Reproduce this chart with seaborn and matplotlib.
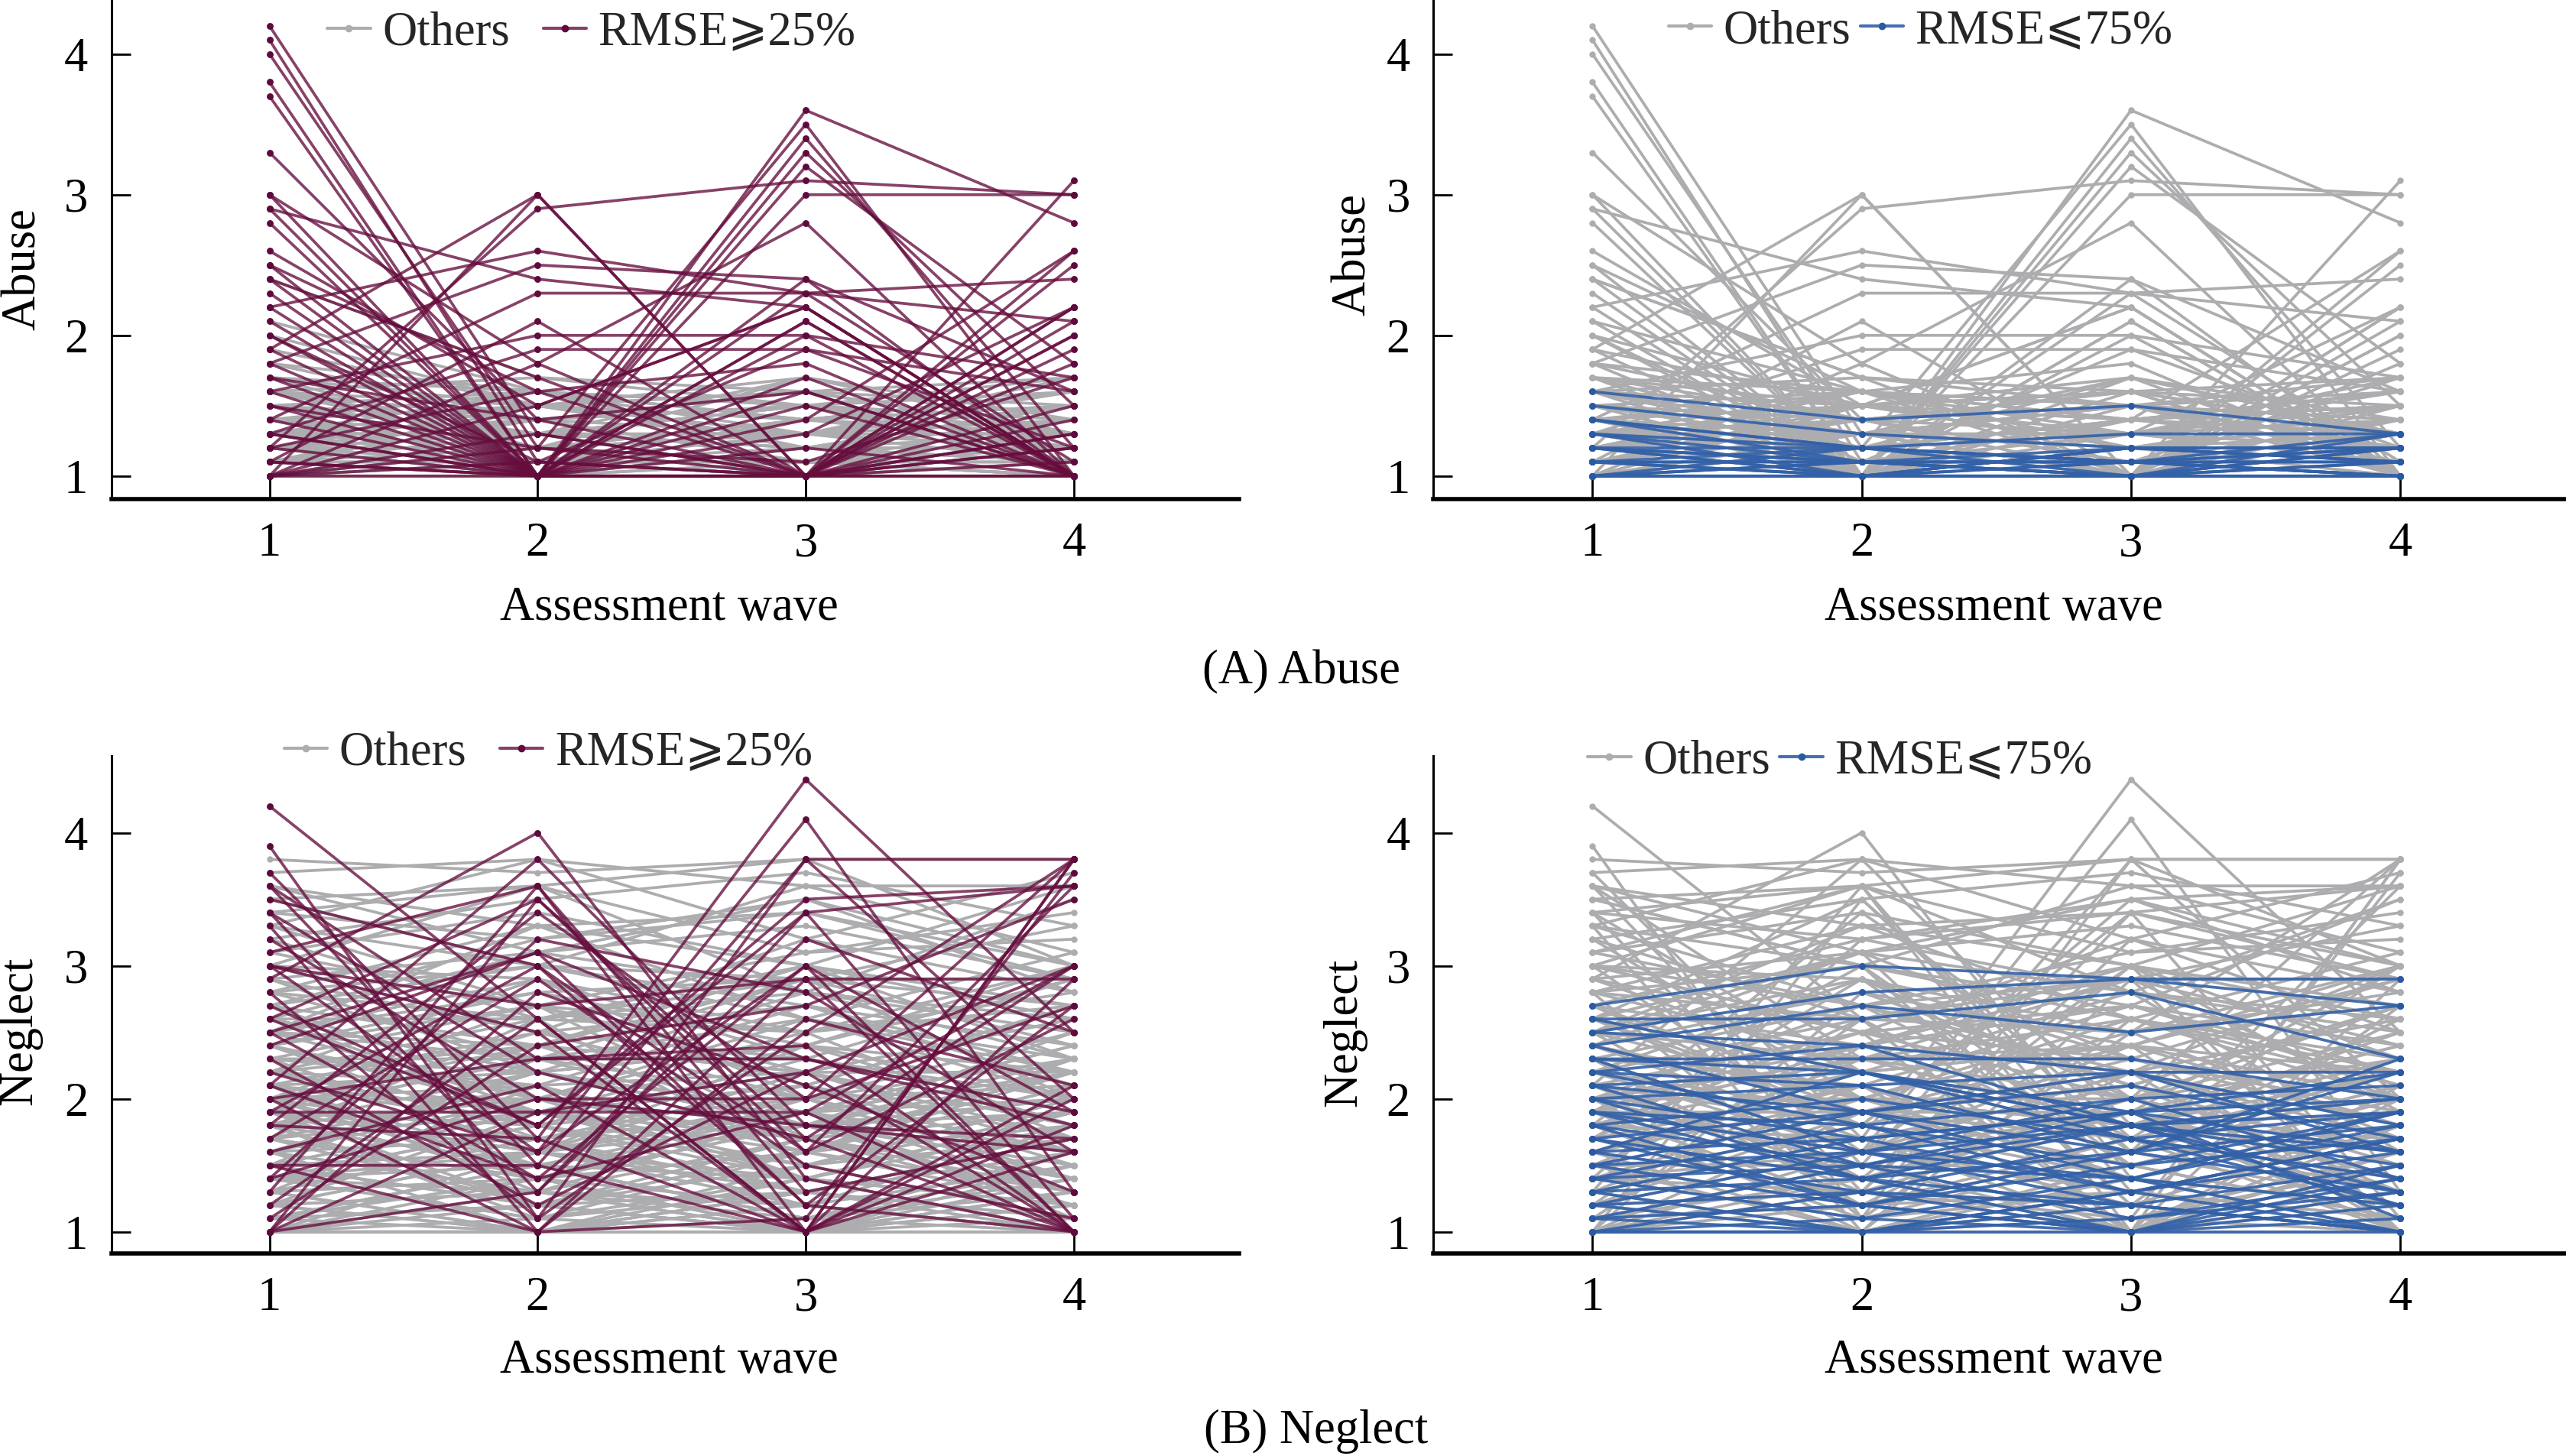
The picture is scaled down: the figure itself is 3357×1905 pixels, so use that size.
import matplotlib
matplotlib.use("Agg")
import matplotlib.pyplot as plt
import pandas as pd
import seaborn as sns
from matplotlib.lines import Line2D

# ---------------- data (one row per person: waves 1-4) ----------------
waves = [1, 2, 3, 4]

abuse_high = [
    [4.2, 1.3, 1.0, 1.0], [4.1, 1.1, 1.0, 1.2], [4.0, 1.2, 3.5, 1.0], [3.8, 1.0, 3.3, 1.5],
    [3.7, 1.0, 1.0, 1.1], [3.3, 1.4, 1.0, 2.2], [3.0, 1.0, 2.4, 1.0], [3.0, 1.8, 1.0, 1.0],
    [2.9, 1.0, 3.4, 1.2], [2.9, 2.4, 2.2, 1.0], [2.8, 1.0, 1.0, 2.0], [2.6, 1.5, 2.2, 1.0],
    [2.5, 1.0, 3.2, 1.8], [2.5, 1.6, 1.0, 3.1], [2.4, 1.0, 1.7, 1.0], [2.3, 1.0, 2.0, 1.0],
    [2.2, 1.0, 1.0, 2.6], [2.2, 2.6, 2.3, 2.4], [2.1, 1.0, 2.1, 1.0], [2.0, 1.1, 1.0, 1.8],
    [1.9, 3.0, 1.0, 1.4], [1.8, 2.5, 2.4, 1.6], [1.7, 1.0, 1.3, 2.2], [1.6, 2.0, 2.0, 1.7],
    [1.5, 1.0, 3.6, 2.8], [1.4, 2.3, 2.3, 2.1], [1.3, 1.9, 1.9, 1.2], [1.2, 2.9, 3.1, 3.0],
    [1.1, 1.0, 3.0, 3.0], [1.0, 3.0, 1.0, 1.3], [1.0, 1.8, 2.8, 1.0], [1.1, 2.1, 1.0, 2.5],
    [1.0, 1.5, 2.2, 1.0], [1.3, 1.0, 1.0, 2.2], [1.2, 1.6, 1.8, 1.0], [1.0, 1.0, 2.1, 1.0],
    [1.5, 1.2, 1.0, 2.0], [2.0, 1.0, 1.0, 1.5], [1.7, 1.4, 1.6, 1.0], [1.4, 1.0, 1.0, 1.9],
    [1.0, 1.3, 1.0, 2.1], [1.1, 1.0, 1.5, 1.0], [2.4, 1.7, 1.0, 1.3], [1.8, 1.0, 1.2, 1.0],
    [1.0, 1.1, 1.9, 1.6], [1.6, 1.0, 1.4, 2.6], [1.2, 1.0, 1.6, 1.0], [1.0, 1.2, 1.1, 1.7],
    [1.9, 1.0, 1.0, 1.2], [1.3, 1.0, 2.3, 1.1],
]

abuse_low = [
    [1.6, 1.4, 1.5, 1.3], [1.5, 1.3, 1.2, 1.2], [1.4, 1.2, 1.3, 1.3], [1.4, 1.1, 1.1, 1.2],
    [1.3, 1.2, 1.1, 1.3], [1.3, 1.0, 1.2, 1.1], [1.2, 1.1, 1.0, 1.2], [1.2, 1.2, 1.1, 1.0],
    [1.1, 1.0, 1.1, 1.1], [1.1, 1.2, 1.0, 1.0], [1.0, 1.0, 1.0, 1.0], [1.0, 1.1, 1.0, 1.1],
    [1.0, 1.0, 1.1, 1.0], [1.2, 1.0, 1.0, 1.1], [1.1, 1.1, 1.2, 1.1], [1.0, 1.2, 1.1, 1.2],
    [1.3, 1.1, 1.0, 1.0], [1.2, 1.0, 1.2, 1.2], [1.0, 1.0, 1.0, 1.3], [1.1, 1.0, 1.0, 1.0],
    [1.0, 1.1, 1.1, 1.0], [1.2, 1.1, 1.1, 1.1], [1.1, 1.1, 1.0, 1.2], [1.4, 1.2, 1.1, 1.0],
    [1.0, 1.0, 1.2, 1.1],
]

abuse_other = [
    [1.7, 1.5, 1.3, 1.4], [2.4, 1.7, 1.5, 1.6], [2.1, 1.6, 1.4, 1.5], [1.6, 1.7, 1.6, 1.7],
    [1.5, 1.2, 1.7, 1.3], [1.4, 1.6, 1.3, 1.7], [1.8, 1.4, 1.5, 1.2], [1.3, 1.5, 1.4, 1.6],
    [1.2, 1.4, 1.6, 1.3], [1.6, 1.3, 1.2, 1.5], [1.5, 1.6, 1.5, 1.4], [1.9, 1.5, 1.4, 1.6],
    [1.4, 1.3, 1.5, 1.1], [1.3, 1.2, 1.4, 1.5], [1.7, 1.2, 1.3, 1.6], [1.2, 1.5, 1.2, 1.4],
    [1.1, 1.3, 1.5, 1.2], [1.5, 1.4, 1.1, 1.3], [1.0, 1.3, 1.2, 1.5], [1.4, 1.1, 1.4, 1.2],
    [1.3, 1.4, 1.1, 1.4], [1.2, 1.1, 1.3, 1.5], [1.6, 1.5, 1.6, 1.3], [1.8, 1.6, 1.4, 1.5],
    [2.0, 1.5, 1.7, 1.4], [1.1, 1.4, 1.3, 1.1], [1.5, 1.3, 1.5, 1.7], [1.3, 1.6, 1.2, 1.3],
    [1.4, 1.5, 1.6, 1.5], [1.7, 1.6, 1.5, 1.4], [1.2, 1.3, 1.7, 1.3], [1.0, 1.2, 1.4, 1.3],
    [1.1, 1.5, 1.2, 1.4], [1.6, 1.2, 1.4, 1.6], [1.3, 1.3, 1.3, 1.2],
]

neglect_high = [
    [4.2, 2.6, 1.0, 1.6], [3.9, 1.1, 3.8, 3.8], [3.7, 1.7, 4.4, 2.5], [3.6, 1.5, 1.0, 3.8],
    [3.5, 3.0, 1.2, 1.0], [3.4, 1.3, 3.4, 3.6], [3.4, 2.2, 1.7, 3.0], [3.3, 1.0, 2.9, 1.0],
    [3.1, 3.6, 1.0, 2.1], [3.0, 1.6, 4.1, 1.3], [3.0, 2.7, 2.9, 2.9], [2.9, 4.0, 1.4, 1.0],
    [2.6, 1.8, 3.5, 3.6], [2.6, 3.5, 1.6, 2.6], [2.5, 1.4, 3.0, 1.0], [2.4, 3.1, 2.3, 1.9],
    [2.1, 3.8, 1.8, 1.7], [2.0, 1.0, 1.1, 3.7], [2.0, 2.3, 2.3, 1.8], [1.9, 1.9, 1.9, 1.0],
    [1.8, 1.7, 1.0, 3.8], [1.8, 3.4, 2.0, 2.7], [1.7, 2.9, 1.5, 1.1], [1.5, 1.5, 3.8, 2.0],
    [1.4, 2.0, 2.0, 3.8], [1.3, 3.6, 1.3, 1.7], [1.1, 2.4, 2.7, 3.5], [1.0, 3.5, 1.7, 1.0],
    [1.0, 1.3, 3.2, 2.5], [1.0, 2.8, 2.1, 1.3], [2.8, 1.1, 2.5, 3.8], [2.2, 1.6, 3.0, 1.9],
    [1.6, 2.1, 1.0, 2.9], [3.2, 2.0, 1.8, 1.6], [2.3, 1.2, 2.2, 3.0], [1.2, 2.6, 1.0, 2.0],
    [2.7, 1.8, 3.4, 1.1], [1.9, 3.0, 1.6, 3.6], [3.6, 2.3, 2.4, 1.0], [1.5, 1.0, 2.6, 2.1],
    [2.5, 3.1, 1.2, 2.7], [1.0, 1.9, 2.2, 1.0], [2.1, 1.4, 1.9, 3.0], [3.0, 2.5, 1.0, 1.8],
    [1.4, 3.2, 2.8, 1.6],
]

neglect_low = [
    [2.7, 3.0, 2.9, 2.9], [2.5, 2.8, 2.9, 2.7], [2.6, 2.6, 2.8, 2.3], [2.5, 2.4, 2.2, 2.2],
    [2.4, 2.7, 2.5, 2.7], [2.3, 2.3, 2.3, 2.0], [2.3, 2.2, 1.9, 2.2], [2.2, 2.1, 2.2, 1.8],
    [2.2, 1.8, 2.0, 2.1], [2.1, 2.2, 1.8, 1.9], [2.1, 1.9, 2.1, 1.7], [2.0, 1.7, 1.9, 2.0],
    [2.0, 2.1, 1.6, 1.8], [1.9, 1.6, 1.8, 1.5], [1.9, 1.8, 1.5, 1.7], [1.8, 2.0, 1.7, 1.4],
    [1.8, 1.5, 1.9, 1.6], [1.7, 1.9, 1.4, 1.8], [1.7, 1.4, 1.6, 1.3], [1.6, 1.7, 1.3, 1.7],
    [1.6, 1.3, 1.7, 1.2], [1.5, 1.6, 1.2, 1.5], [1.5, 1.2, 1.5, 1.9], [1.4, 1.5, 1.1, 1.4],
    [1.4, 1.1, 1.4, 1.2], [1.3, 1.4, 1.0, 1.3], [1.3, 1.0, 1.3, 1.6], [1.2, 1.3, 1.2, 1.0],
    [1.2, 1.0, 1.1, 1.3], [1.1, 1.2, 1.0, 1.2], [1.1, 1.0, 1.3, 1.0], [1.0, 1.1, 1.0, 1.1],
    [1.0, 1.0, 1.2, 1.0], [1.0, 1.3, 1.0, 1.4], [1.0, 1.0, 1.0, 1.0], [2.0, 1.4, 1.8, 1.2],
    [1.8, 1.2, 1.6, 2.2], [2.4, 1.9, 2.2, 1.6], [1.6, 2.2, 1.7, 1.9], [1.4, 1.8, 1.3, 1.7],
    [2.1, 1.5, 1.4, 1.0], [1.3, 1.7, 1.9, 1.1], [1.7, 1.2, 1.0, 1.5], [2.3, 1.6, 2.0, 1.4],
    [1.5, 1.9, 1.6, 2.3], [1.1, 1.5, 1.8, 1.3], [1.2, 1.6, 1.4, 1.9], [2.2, 2.4, 1.8, 1.6],
    [1.9, 1.4, 1.2, 1.0], [2.6, 2.2, 1.8, 2.0],
]

neglect_other = [
    [3.8, 3.7, 3.8, 3.8], [3.7, 3.8, 3.6, 3.6], [3.5, 3.6, 3.8, 3.0], [3.3, 3.8, 3.2, 3.7],
    [3.4, 3.2, 3.5, 2.8], [3.2, 3.5, 3.7, 3.3], [3.1, 3.4, 3.0, 3.6], [3.6, 3.1, 3.3, 2.9],
    [3.0, 3.6, 2.8, 3.5], [2.9, 3.1, 3.5, 3.0], [3.3, 2.7, 3.1, 3.2], [2.8, 3.3, 3.0, 2.6],
    [3.5, 3.0, 2.6, 3.1], [2.7, 3.2, 3.4, 2.9], [3.2, 2.6, 2.9, 3.3], [3.0, 2.9, 2.5, 3.0],
    [2.9, 2.5, 3.2, 2.8], [2.8, 3.0, 2.7, 2.4], [2.6, 3.1, 2.8, 2.5], [2.7, 2.4, 3.0, 2.7],
    [2.5, 2.9, 2.3, 2.9], [2.6, 2.2, 2.8, 2.6], [2.4, 2.8, 2.4, 2.2], [2.5, 2.3, 2.9, 2.4],
    [2.3, 2.7, 2.1, 2.7], [2.4, 2.0, 2.6, 2.3], [2.2, 2.6, 2.5, 2.8], [2.3, 2.1, 2.7, 2.1],
    [2.1, 2.5, 2.0, 2.5], [2.2, 1.9, 2.4, 2.0], [2.0, 2.4, 2.2, 2.6], [2.1, 1.8, 2.3, 1.9],
    [1.9, 2.3, 1.8, 2.3], [2.0, 2.0, 2.5, 1.7], [1.8, 2.2, 1.9, 2.4], [1.9, 1.6, 2.2, 1.8],
    [1.7, 2.1, 1.6, 2.1], [1.8, 1.7, 2.1, 1.5], [1.6, 2.0, 1.8, 2.2], [1.7, 1.4, 2.0, 1.6],
    [1.5, 1.9, 1.5, 2.0], [1.6, 1.3, 1.9, 1.4], [1.4, 1.8, 1.4, 1.9], [1.5, 1.2, 1.7, 1.3],
    [1.3, 1.7, 1.2, 1.8], [1.4, 1.1, 1.6, 1.2], [1.2, 1.6, 1.3, 1.7], [1.3, 1.0, 1.5, 1.1],
    [1.1, 1.5, 1.1, 1.6], [1.2, 1.0, 1.4, 1.0], [1.0, 1.4, 1.0, 1.5], [1.1, 1.2, 1.0, 1.3],
    [1.0, 1.0, 1.2, 1.0], [1.0, 1.0, 1.0, 1.2], [1.2, 1.3, 1.0, 1.0], [1.0, 1.2, 1.3, 1.1],
    [2.8, 2.3, 2.6, 2.0], [3.1, 2.7, 2.2, 2.6], [2.5, 3.3, 2.6, 2.2], [2.9, 2.2, 2.4, 3.0],
    [2.2, 2.9, 2.0, 2.3], [1.9, 2.5, 2.7, 2.2], [2.6, 1.9, 2.1, 2.7], [1.8, 2.4, 2.9, 2.0],
    [2.4, 1.7, 1.9, 2.4], [3.0, 2.5, 2.3, 1.9], [2.0, 2.7, 1.7, 2.2], [1.6, 2.2, 2.4, 1.8],
    [2.7, 2.0, 1.8, 2.5], [1.5, 2.3, 2.0, 1.6], [2.3, 1.6, 2.4, 2.9], [1.7, 2.6, 1.5, 2.0],
    [3.3, 3.0, 3.6, 3.1], [3.4, 3.6, 3.1, 3.4], [3.6, 3.3, 3.4, 3.0], [1.4, 1.6, 2.2, 1.7],
    [1.2, 1.9, 1.7, 1.4], [1.1, 1.4, 1.8, 2.0], [1.3, 2.1, 1.4, 1.2], [1.0, 1.6, 1.9, 1.3],
    [2.1, 1.3, 1.2, 1.8], [1.9, 1.2, 1.6, 2.1], [1.6, 1.0, 1.3, 1.7], [2.5, 2.0, 1.4, 1.9],
    [2.8, 2.6, 3.0, 2.3], [2.0, 1.5, 1.1, 1.5], [1.8, 1.1, 1.3, 1.1], [1.4, 1.3, 1.1, 1.0],
]

x_ticks = [1, 2, 3, 4]
y_ticks = [1, 2, 3, 4]
x_label = "Assessment wave"
label_high = "RMSE\u2a7e25%"
label_low = "RMSE\u2a7d75%"
label_other = "Others"
captions = ["(A) Abuse", "(B) Neglect"]

# ---------------- helpers ----------------
def to_long(rows):
    recs = []
    for i, r in enumerate(rows):
        for w, v in zip(waves, r):
            recs.append((i, w, v))
    return pd.DataFrame(recs, columns=["id", "wave", "value"])

GRAY = "#ADADB0"
RED_LINE = (0.40, 0.05, 0.24, 0.78)
RED_MARK = "#5E0A3C"
BLUE_LINE = (0.20, 0.38, 0.66, 0.90)
BLUE_MARK = "#2A5AA2"
FS = 22.5
LW = 1.35

sns.set_theme(style="ticks")
plt.rcParams["font.family"] = ["Liberation Serif", "DejaVu Serif", "DejaVu Sans"]
plt.rcParams["axes.unicode_minus"] = False

fig = plt.figure(figsize=(16.785, 9.525), dpi=200)
W, H = 1568.0, 890.0


def make_ax(l, r, b, t):
    return fig.add_axes([l / W, 1 - b / H, (r - l) / W, (b - t) / H])


def draw(ax, rows_all_other, rows_fg, line_c, mark_c, fg_label, ylabel, ylim,
         leg_xy, colspace, ylab_xy, xlab_y):
    bg = to_long(rows_all_other)
    fg = to_long(rows_fg)
    sns.lineplot(data=bg, x="wave", y="value", units="id", estimator=None,
                 color=GRAY, lw=LW, marker="o", markersize=3.0,
                 markeredgewidth=0, markerfacecolor=GRAY, ax=ax,
                 legend=False, sort=False)
    sns.lineplot(data=fg, x="wave", y="value", units="id", estimator=None,
                 color=line_c, lw=LW, marker="o", markersize=3.2,
                 markeredgewidth=0, markerfacecolor=mark_c, ax=ax,
                 legend=False, sort=False)
    ax.set_xlim(0.41, 4.615)
    ax.set_ylim(*ylim)
    ax.set_xticks(x_ticks)
    ax.set_yticks(y_ticks)
    ax.set_xticklabels([str(v) for v in x_ticks])
    ax.set_yticklabels([str(v) for v in y_ticks])
    for s in ["top", "right"]:
        ax.spines[s].set_visible(False)
    ax.spines["bottom"].set_linewidth(2.0)
    ax.spines["left"].set_linewidth(1.1)
    ax.spines["bottom"].set_color("black")
    ax.spines["left"].set_color("black")
    ax.tick_params(axis="x", direction="in", length=10, width=1.0, pad=11,
                   labelsize=FS, colors="black")
    ax.tick_params(axis="y", direction="in", length=9, width=1.0, pad=11,
                   labelsize=FS, colors="black")
    ax.set_xlabel(x_label, fontsize=FS, color="black")
    ax.xaxis.set_label_coords(0.495, xlab_y)
    ax.xaxis.label.set_va("top")
    ax.set_ylabel(ylabel, fontsize=FS, color="black")
    ax.yaxis.set_label_coords(*ylab_xy)
    handles = [
        Line2D([0], [0], color=GRAY, lw=1.5, marker="o", markersize=3.5,
               markeredgewidth=0),
        Line2D([0], [0], color=line_c, lw=1.5, marker="o", markersize=3.5,
               markeredgewidth=0, markerfacecolor=mark_c),
    ]
    ax.legend(handles, [label_other, fg_label], loc="center",
              bbox_to_anchor=leg_xy, ncol=2, frameon=False, fontsize=FS,
              handlelength=0.9, handletextpad=0.25, columnspacing=colspace,
              borderaxespad=0, borderpad=0)


abuse_not_high = abuse_other + abuse_low
abuse_not_low = abuse_other + abuse_high
neglect_not_high = neglect_other + neglect_low
neglect_not_low = neglect_other + neglect_high

ax1 = make_ax(68, 757, 305, 0)
draw(ax1, abuse_not_high, abuse_high, RED_LINE, RED_MARK, label_high, "Abuse",
     (0.837, 4.384), (0.426, 0.933), 0.7, (-0.058, 0.46), -0.175)
ax2 = make_ax(876, 1568, 305, 0)
draw(ax2, abuse_not_low, abuse_low, BLUE_LINE, BLUE_MARK, label_low, "Abuse",
     (0.837, 4.384), (0.43, 0.937), 0.2, (-0.051, 0.49), -0.175)
ax3 = make_ax(68, 757, 766, 462)
draw(ax3, neglect_not_high, neglect_high, RED_LINE, RED_MARK, label_high, "Neglect",
     (0.84, 4.578), (0.3875, 1.005), 0.7, (-0.061, 0.447), -0.172)
ax4 = make_ax(876, 1568, 766, 462)
draw(ax4, neglect_not_low, neglect_low, BLUE_LINE, BLUE_MARK, label_low, "Neglect",
     (0.84, 4.578), (0.359, 0.988), 0.2, (-0.059, 0.444), -0.172)

fig.text(795 / W, 1 - 411 / H, captions[0], ha="center", va="center",
         fontsize=FS, color="black")
fig.text(804 / W, 1 - 875 / H, captions[1], ha="center", va="center",
         fontsize=FS, color="black")

fig.savefig("out.png", dpi=200, facecolor="white")
